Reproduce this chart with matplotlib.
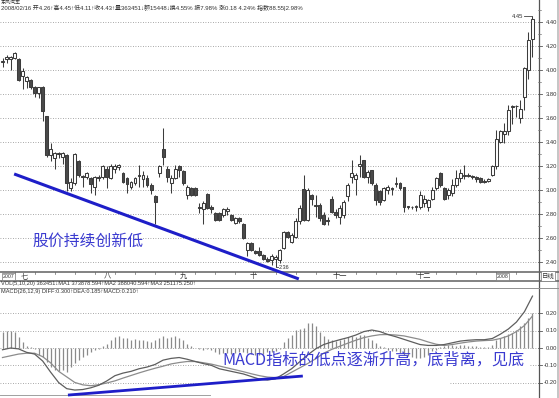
import matplotlib
matplotlib.use("Agg")
import matplotlib.pyplot as plt
from matplotlib.transforms import Affine2D, blended_transform_factory
from matplotlib.patches import Rectangle
import numpy as np

# ---------------- data ----------------
opens = [4.07, 4.09, 4.09, 4.10, 4.09, 3.95, 3.91, 3.92, 3.86, 3.81,
         3.86, 3.62, 3.29, 3.27, 3.30, 3.28, 3.29, 3.02, 3.06, 3.24,
         3.12, 3.11, 3.10, 3.03, 3.11, 3.11, 3.18, 3.10, 3.18, 3.19,
         3.14, 3.10, 3.03, 3.06, 3.12, 3.09, 3.10, 3.04, 2.95, 3.14,
         3.34, 3.18, 3.06, 3.10, 3.20, 3.16, 2.96, 3.02, 3.02, 2.86,
         2.84, 2.97, 2.86, 2.81, 2.81, 2.79, 2.83, 2.79, 2.73, 2.77,
         2.72, 2.50, 2.56, 2.49, 2.49, 2.46, 2.43, 2.42, 2.43, 2.42,
         2.52, 2.65, 2.57, 2.61, 2.74, 3.01, 2.75, 2.96, 2.88, 2.88,
         2.79, 2.75, 2.93, 2.82, 2.78, 2.79, 2.95, 3.11, 3.09, 3.20,
         3.25, 3.11, 3.17, 3.04, 2.99, 2.92, 3.00, 3.02, 3.05, 3.06,
         3.03, 2.87, 2.86, 2.86, 2.86, 2.89, 2.86, 2.93, 3.02, 3.14,
         3.02, 2.96, 2.98, 3.04, 3.10, 3.12, 3.13, 3.12, 3.11, 3.10,
         3.08, 3.08, 3.13, 3.20, 3.40, 3.47, 3.49, 3.69, 3.70, 3.60,
         3.78, 4.00, 4.26]
highs = [4.10, 4.13, 4.12, 4.15, 4.10, 4.02, 3.95, 3.93, 3.87, 3.86,
         3.87, 3.62, 3.39, 3.32, 3.32, 3.32, 3.30, 3.10, 3.31, 3.25,
         3.13, 3.15, 3.11, 3.12, 3.13, 3.21, 3.20, 3.22, 3.22, 3.22,
         3.15, 3.11, 3.08, 3.11, 3.21, 3.16, 3.13, 3.06, 2.96, 3.21,
         3.52, 3.20, 3.13, 3.21, 3.21, 3.17, 3.04, 3.03, 3.03, 2.89,
         2.91, 2.98, 2.88, 2.82, 2.82, 2.85, 2.86, 2.80, 2.78, 2.78,
         2.73, 2.57, 2.57, 2.50, 2.53, 2.47, 2.44, 2.47, 2.46, 2.51,
         2.66, 2.66, 2.64, 2.77, 2.88, 3.13, 3.02, 2.97, 2.96, 2.89,
         2.82, 2.78, 2.95, 2.84, 2.88, 2.92, 3.06, 3.25, 3.14, 3.29,
         3.25, 3.17, 3.17, 3.06, 3.00, 3.03, 3.04, 3.03, 3.11, 3.07,
         3.03, 2.87, 2.87, 2.88, 2.99, 2.96, 2.93, 3.03, 3.11, 3.15,
         3.03, 3.02, 3.09, 3.17, 3.18, 3.21, 3.14, 3.13, 3.12, 3.11,
         3.09, 3.10, 3.21, 3.50, 3.50, 3.56, 3.71, 3.71, 3.71, 3.75,
         4.03, 4.32, 4.45]
lows = [4.03, 4.06, 4.00, 4.09, 3.91, 3.84, 3.85, 3.84, 3.78, 3.77,
        3.58, 3.28, 3.24, 3.18, 3.27, 3.22, 2.99, 2.99, 3.04, 3.11,
        3.03, 3.09, 2.98, 2.96, 3.08, 3.09, 3.02, 3.09, 3.14, 3.17,
        3.06, 2.98, 3.01, 3.04, 3.03, 3.03, 3.03, 2.97, 2.72, 3.11,
        3.21, 3.07, 2.98, 3.09, 3.11, 3.04, 2.93, 2.95, 2.95, 2.81,
        2.72, 2.84, 2.81, 2.74, 2.74, 2.78, 2.79, 2.74, 2.72, 2.73,
        2.59, 2.45, 2.49, 2.47, 2.45, 2.42, 2.40, 2.38, 2.36, 2.39,
        2.51, 2.60, 2.56, 2.60, 2.72, 2.74, 2.74, 2.88, 2.78, 2.74,
        2.71, 2.71, 2.81, 2.77, 2.72, 2.77, 2.91, 3.06, 2.96, 3.11,
        3.10, 3.06, 3.04, 2.88, 2.88, 2.91, 2.97, 2.96, 3.03, 3.00,
        2.82, 2.84, 2.84, 2.83, 2.84, 2.86, 2.83, 2.92, 3.00, 3.03,
        2.92, 2.93, 2.95, 3.03, 3.07, 3.09, 3.11, 3.09, 3.07, 3.06,
        3.06, 3.07, 3.12, 3.18, 3.39, 3.39, 3.46, 3.55, 3.61, 3.56,
        3.67, 3.93, 4.11]
closes = [4.08, 4.11, 4.11, 4.14, 3.92, 3.99, 3.94, 3.86, 3.81, 3.86,
          3.66, 3.29, 3.34, 3.31, 3.31, 3.31, 3.06, 3.07, 3.30, 3.13,
          3.11, 3.14, 3.05, 3.11, 3.10, 3.20, 3.11, 3.20, 3.20, 3.21,
          3.07, 3.05, 3.07, 3.10, 3.13, 3.13, 3.04, 3.00, 2.90, 3.20,
          3.28, 3.11, 3.10, 3.18, 3.17, 3.06, 3.03, 2.96, 2.96, 2.85,
          2.89, 2.85, 2.84, 2.75, 2.75, 2.84, 2.84, 2.75, 2.77, 2.74,
          2.60, 2.56, 2.50, 2.48, 2.46, 2.43, 2.41, 2.45, 2.44, 2.50,
          2.65, 2.61, 2.63, 2.74, 2.85, 2.75, 3.00, 2.93, 2.87, 2.77,
          2.72, 2.74, 2.82, 2.79, 2.85, 2.90, 3.04, 3.14, 3.13, 3.22,
          3.11, 3.15, 3.06, 2.92, 2.90, 3.02, 3.03, 3.01, 3.06, 3.02,
          2.86, 2.86, 2.86, 2.87, 2.96, 2.93, 2.92, 3.00, 3.10, 3.04,
          2.93, 3.00, 3.04, 3.10, 3.14, 3.13, 3.12, 3.11, 3.09, 3.07,
          3.07, 3.09, 3.20, 3.43, 3.49, 3.49, 3.67, 3.70, 3.70, 3.68,
          4.02, 4.25, 4.43]

macd_hist = [0.090, 0.100, 0.100, 0.090, 0.065, 0.037, 0.013, 0.003, -0.005, -0.040,
             -0.050, -0.080, -0.108, -0.127, -0.130, -0.127, -0.136, -0.110, -0.088, -0.069,
             -0.054, -0.040, -0.025, -0.013, -0.006, 0.010, 0.024, 0.044, 0.063, 0.067,
             0.058, 0.058, 0.048, 0.052, 0.048, 0.044, 0.039, 0.033, 0.044, 0.058,
             0.069, 0.058, 0.063, 0.067, 0.058, 0.044, 0.025, 0.010, 0.002, -0.006,
             -0.010, -0.006, -0.013, -0.025, -0.033, -0.029, -0.029, -0.033, -0.029, -0.025,
             -0.021, -0.029, -0.033, -0.040, -0.040, -0.033, -0.025, -0.022, -0.016, -0.008,
             0.035, 0.056, 0.075, 0.104, 0.108, 0.114, 0.143, 0.143, 0.125, 0.095,
             0.067, 0.052, 0.044, 0.039, 0.044, 0.052, 0.063, 0.069, 0.065, 0.075,
             0.075, 0.056, 0.044, 0.029, 0.013, 0.004, -0.010, -0.019, -0.019, -0.029,
             -0.038, -0.048, -0.052, -0.058, -0.058, -0.052, -0.038, -0.019, -0.010, 0.006,
             0.013, 0.017, 0.019, 0.013, 0.017, 0.019, 0.013, 0.010, 0.010, 0.006,
             0.006, 0.004, 0.019, 0.044, 0.056, 0.069, 0.080, 0.087, 0.104, 0.125,
             0.143, 0.172, 0.205]

line_idx = list(range(0, 133, 2))
diff = [-0.010, 0.000, -0.005, -0.025, -0.035, -0.075, -0.140, -0.200, -0.235, -0.243,
        -0.240, -0.230, -0.215, -0.190, -0.160, -0.145, -0.135, -0.120, -0.110, -0.095,
        -0.070, -0.060, -0.055, -0.065, -0.078, -0.090, -0.100, -0.120, -0.130, -0.140,
        -0.150, -0.165, -0.180, -0.185, -0.178, -0.150, -0.120, -0.080, -0.040, -0.005,
        0.020, 0.035, 0.048, 0.060, 0.075, 0.095, 0.104, 0.095, 0.078, 0.065,
        0.050, 0.035, 0.020, 0.015, 0.015, 0.020, 0.030, 0.040, 0.045, 0.048,
        0.048, 0.055, 0.080, 0.110, 0.150, 0.210, 0.300]
dea = [-0.055, -0.045, -0.035, -0.030, -0.030, -0.050, -0.086, -0.135, -0.167, -0.199,
       -0.213, -0.218, -0.212, -0.202, -0.190, -0.174, -0.159, -0.144, -0.130, -0.117,
       -0.105, -0.092, -0.084, -0.078, -0.078, -0.085, -0.093, -0.104, -0.115, -0.126,
       -0.137, -0.149, -0.160, -0.168, -0.171, -0.165, -0.140, -0.115, -0.090, -0.062,
       -0.030, -0.008, 0.010, 0.028, 0.045, 0.060, 0.070, 0.077, 0.078, 0.075,
       0.070, 0.060, 0.050, 0.035, 0.022, 0.015, 0.020, 0.028, 0.035, 0.040,
       0.043, 0.045, 0.055, 0.070, 0.095, 0.130, 0.185]

price_ticks = [2.40, 2.60, 2.80, 3.00, 3.20, 3.40, 3.60, 3.80, 4.00, 4.20, 4.40]
macd_ticks = [-0.20, -0.10, 0.00, 0.10, 0.20]
month_labels = ['七', '八', '九', '十', '十一', '十二']
month_pos = [5.4, 26.0, 45.0, 62.4, 84.0, 105.0]
year_labels = ['2007', '2008']
year_pos = [0.0, 123.0]

price_trend_idx = [2.9, 73.8]
price_trend_val = [3.136, 2.261]
macd_trend_idx = [16.3, 74.8]
macd_trend_val = [-0.272, -0.162]

header1 = '东风汽车'
header2 = ('2008/02/16 开4.26↑高4.45↑低4.11↑收4.43↑量363451↓额15448↓换4.55% '
           '振7.98% 涨0.18 4.24% 指数88.55|2.98%')
vol_title = 'VOL(5,10,20) 363451↓MA1 373878.594↑MA2 388040.594↑MA3 251175.250↑'
macd_title = 'MACD(26,12,9) DIFF:0.300↑DEA:0.185↑MACD:0.210↑'
note_price = '股价持续创新低'
note_macd = 'MACD指标的低点逐渐升高，底背离，见底'

# ---------------- layout ----------------
W, H, DPI = 559, 398, 100
CJK = ['Noto Sans CJK SC', 'DejaVu Sans']
SMALL = ['Liberation Sans', 'Noto Sans CJK SC', 'DejaVu Sans']
plt.rcParams['font.family'] = CJK

fig = plt.figure(figsize=(W / DPI, H / DPI), dpi=DPI, facecolor='white')
PX = Affine2D().scale(1, -1).translate(0, H)   # pixel (top-left origin) -> display


def box(x0, y0, x1, y1):
    return [x0 / W, 1 - y1 / H, (x1 - x0) / W, (y1 - y0) / H]


X0, DX = 2.5, 4.015
XL = (-X0 / DX, (538 - X0) / DX)
BLUE = '#1e1ec8'
TXTBLUE = '#3a3ad0'
EDGE = '#3c3c3c'
GRID = '#8c8c8c'


def clean(ax):
    ax.patch.set_visible(False)
    for s in ax.spines.values():
        s.set_visible(False)
    ax.set_xticks([])
    ax.set_yticks([])


# overlay for frame lines and header
ov = fig.add_axes([0, 0, 1, 1], zorder=0)
ov.set_xlim(0, W)
ov.set_ylim(H, 0)
clean(ov)
ov.plot([538.5, 538.5], [0, H], color='#555555', lw=0.9)
ov.plot([557.5, 557.5], [0, H], color='#bbbbbb', lw=1.2)
ov.plot([0, W], [272, 272], color='#606060', lw=1.1)
ov.plot([0, W], [280.5, 280.5], color='#606060', lw=1.1)
ov.plot([0, W], [287.5, 287.5], color='#909090', lw=0.7)
ov.plot([0, 210], [395, 395], color='#a0a0a0', lw=0.7)
ov.text(1, 2.5, header1, fontsize=3.6, color='#333333', va='center', ha='left',
        family=SMALL)
ov.text(1, 8.2, header2, fontsize=4.3, color='#333333', va='center', ha='left',
        family=SMALL)
ov.text(1, 283.8, vol_title, fontsize=4.1, color='#333333', va='center', ha='left',
        family=SMALL)
ov.text(1, 291.0, macd_title, fontsize=4.1, color='#333333', va='center', ha='left',
        family=SMALL)
ov.text(548, 276.3, '日线', fontsize=4.6, color='#333333', va='center', ha='center',
        bbox=dict(boxstyle='square,pad=0.15', fc='white', ec='#777777', lw=0.5))

# ---------------- price panel ----------------
axp = fig.add_axes(box(0, 11, 538, 272), zorder=3)
axp.set_xlim(*XL)
axp.set_ylim(2.319, 4.494)
clean(axp)
for t in price_ticks:
    axp.axhline(t, color=GRID, lw=0.6, ls=(0, (1, 2)), zorder=0.5)
btr = blended_transform_factory(axp.transAxes, axp.transData)
for t in price_ticks:
    axp.plot([1.0, 1.0 + 4 / 538], [t, t], color='#555555', lw=0.6,
             transform=btr, clip_on=False)
    axp.plot([1.0, 1.0 + 2.5 / 538], [t + 0.1, t + 0.1], color='#777777', lw=0.5,
             transform=btr, clip_on=False)
    axp.text(1.0 + 19.5 / 538, t, f'{t:.2f}', transform=btr, ha='right', va='center',
             fontsize=4.2, color='#333333', family=SMALL, clip_on=False)

idx = np.arange(len(closes))
o = np.array(opens)
c = np.array(closes)
hi = np.array(highs)
lo = np.array(lows)
up = c >= o
axp.vlines(idx, lo, hi, color=EDGE, lw=0.75, zorder=2)
bot = np.minimum(o, c)
hgt = np.maximum(np.abs(c - o), 0.004)
axp.bar(idx[up], hgt[up], bottom=bot[up], width=0.72, facecolor='white',
        edgecolor=EDGE, lw=0.75, zorder=3)
axp.bar(idx[~up], hgt[~up], bottom=bot[~up], width=0.72, facecolor='#4a4a4a',
        edgecolor=EDGE, lw=0.75, zorder=3)

imax = int(np.argmax(hi))
imin = int(np.argmin(lo))
axp.plot([imax - 2.1, imax], [hi[imax], hi[imax]], color='#444444', lw=0.6, zorder=4)
axp.text(imax - 2.3, hi[imax], f'{hi[imax]:.2f}', ha='right', va='center',
         fontsize=4.2, color='#333333', family=SMALL, zorder=4)
axp.plot([imin, imin + 0.6], [lo[imin], lo[imin]], color='#444444', lw=0.6, zorder=4)
axp.text(imin + 0.8, lo[imin], f'{lo[imin]:.2f}', ha='left', va='center',
         fontsize=4.0, color='#333333', family=SMALL, zorder=4)

axp.plot(price_trend_idx, price_trend_val, color=BLUE, lw=2.2, clip_on=False,
         solid_capstyle='butt', zorder=6)
axp.text(32, 241.5, note_price, transform=PX, fontsize=11.4, color=TXTBLUE,
         ha='left', va='center', zorder=7)

# ---------------- date row ----------------
axd = fig.add_axes(box(0, 272, 538, 280.5), zorder=1)
axd.set_xlim(*XL)
axd.set_ylim(0, 1)
clean(axd)
for p, lab in zip(month_pos, month_labels):
    axd.text(p, 0.5, lab, ha='center', va='center', fontsize=5.2, color='#333333')
for p, lab in zip(year_pos, year_labels):
    axd.text(p, 0.5, lab, ha='left', va='center', fontsize=3.8, color='#333333',
             family=SMALL,
             bbox=dict(boxstyle='square,pad=0.15', fc='white', ec='#777777', lw=0.5))
for p in np.arange(3, 133, 5):
    axd.plot([p, p], [1.0, 0.72], color='#666666', lw=0.5)

# ---------------- MACD panel ----------------
axm = fig.add_axes(box(0, 288, 538, 398), zorder=2)
axm.set_xlim(*XL)
axm.set_ylim(-0.289, 0.347)
clean(axm)
for t in macd_ticks:
    axm.axhline(t, color=GRID, lw=0.6, ls=(0, (1, 2)), zorder=0.5)
mtr = blended_transform_factory(axm.transAxes, axm.transData)
for t in macd_ticks:
    axm.plot([1.0, 1.0 + 4 / 538], [t, t], color='#555555', lw=0.6,
             transform=mtr, clip_on=False)
    axm.text(1.0 + 19.5 / 538, t, f'{t:.2f}', transform=mtr, ha='right', va='center',
             fontsize=4.2, color='#333333', family=SMALL, clip_on=False)

axm.add_patch(Rectangle((212, 350), 318, 22, transform=PX, fc='white', ec='none',
                        zorder=1))
axm.add_patch(Rectangle((205, 372), 245, 20, transform=PX, fc='white', ec='none',
                        zorder=1))
axm.vlines(idx, 0, macd_hist, color='#8a8a8a', lw=0.9, zorder=2)
axm.plot(line_idx, dea, color='#8c8c8c', lw=0.9, zorder=3)
axm.plot(line_idx, diff, color='#5e5e5e', lw=0.9, zorder=3)
axm.plot(macd_trend_idx, macd_trend_val, color=BLUE, lw=2.0, clip_on=False,
         solid_capstyle='butt', zorder=6)
axm.text(222, 360, note_macd, transform=PX, fontsize=11.6, color=TXTBLUE,
         ha='left', va='center', zorder=7)

fig.savefig('out.png', dpi=DPI, facecolor='white')
